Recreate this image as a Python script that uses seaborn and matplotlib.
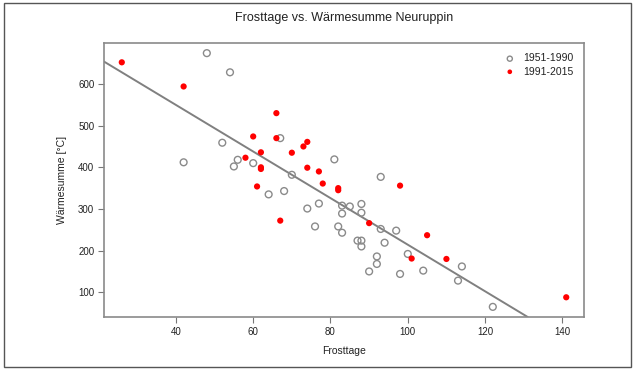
import numpy as np
import pandas as pd
import matplotlib
matplotlib.use("Agg")
import matplotlib.pyplot as plt
from matplotlib.patches import Rectangle
import seaborn as sns

# Frost days and heat sums, Neuruppin
frost_1951_1990 = [48, 54, 67, 52, 56, 55, 60, 42, 81, 70, 64, 68, 93, 77, 74, 83, 85,
                   83, 88, 88, 82, 83, 76, 93, 97, 87, 88, 88, 94, 92, 92, 90, 98, 100,
                   114, 113, 104, 122]
heat_1951_1990 = [674, 628, 470, 459, 418, 402, 410, 412, 419, 382, 335, 343, 377, 313,
                  301, 308, 306, 289, 312, 291, 258, 243, 258, 252, 248, 224, 224, 210,
                  219, 186, 168, 150, 144, 192, 162, 128, 152, 65]

frost_1991_2015 = [26, 42, 66, 60, 66, 62, 58, 62, 61, 70, 73, 74, 74, 77, 78, 82, 82,
                   98, 67, 90, 101, 105, 110, 141, 62]
heat_1991_2015 = [652, 594, 530, 474, 470, 436, 423, 400, 354, 435, 450, 461, 399, 390,
                  361, 350, 345, 356, 272, 266, 181, 237, 180, 88, 396]

period_labels = ["1951-1990", "1991-2015"]
x_ticks = [40, 60, 80, 100, 120, 140]
y_ticks = [100, 200, 300, 400, 500, 600]

df = pd.DataFrame({
    "Frosttage": frost_1951_1990 + frost_1991_2015,
    "Waermesumme": heat_1951_1990 + heat_1991_2015,
    "Periode": [period_labels[0]] * len(frost_1951_1990) + [period_labels[1]] * len(frost_1991_2015),
})

sns.set_theme(style="white")
plt.rcParams["font.family"] = ["Liberation Sans", "DejaVu Sans"]

fig = plt.figure(figsize=(6.35, 3.70), dpi=100)
ax = fig.add_axes([0.1638, 0.1432, 0.7559, 0.7406])

old = df[df["Periode"] == period_labels[0]]
new = df[df["Periode"] == period_labels[1]]

sns.scatterplot(data=old, x="Frosttage", y="Waermesumme", ax=ax, marker="o",
                s=24, facecolor="none", edgecolor="#8a8a8a", linewidth=1.0,
                label=period_labels[0], zorder=3)
sns.scatterplot(data=new, x="Frosttage", y="Waermesumme", ax=ax, marker="o",
                s=20, color="#ff0000", edgecolor="none", linewidth=0,
                label=period_labels[1], zorder=4)

# least-squares line over all years
slope, intercept = np.polyfit(df["Frosttage"], df["Waermesumme"], 1)
ax.axline((0, intercept), slope=slope, color="#808080", lw=1.4, zorder=2)

# axis ranges padded by 4 % like base R plots
xr = df["Frosttage"].max() - df["Frosttage"].min()
yr = df["Waermesumme"].max() - df["Waermesumme"].min()
ax.set_xlim(df["Frosttage"].min() - 0.04 * xr, df["Frosttage"].max() + 0.04 * xr)
ax.set_ylim(df["Waermesumme"].min() - 0.04 * yr, df["Waermesumme"].max() + 0.04 * yr)

ax.set_xticks(x_ticks)
ax.set_yticks(y_ticks)
ax.tick_params(axis="both", direction="out", length=4, width=0.8, color="#777777",
               labelsize=7, labelcolor="#222222", pad=3, bottom=True, left=True)
for sp in ax.spines.values():
    sp.set_color("#8a8a8a")
    sp.set_linewidth(1.2)

ax.set_xlabel("Frosttage", fontsize=7.5, color="#222222", labelpad=7)
ax.set_ylabel("Wärmesumme [°C]", fontsize=7.5, color="#222222", labelpad=8)
ax.set_title("Frosttage vs. Wärmesumme Neuruppin", fontsize=9, color="#222222", pad=16)

leg = ax.legend(loc="upper right", frameon=False, fontsize=7.5, handletextpad=0.3,
                borderaxespad=0.6, labelspacing=0.3, markerscale=0.75)
for t in leg.get_texts():
    t.set_color("#222222")

fig.patches.append(Rectangle((4 / 635, 3 / 370), 627 / 635, 364 / 370,
                             transform=fig.transFigure, fill=False,
                             edgecolor="#555555", linewidth=1.0))

fig.savefig("out.png", dpi=100, facecolor="white")
